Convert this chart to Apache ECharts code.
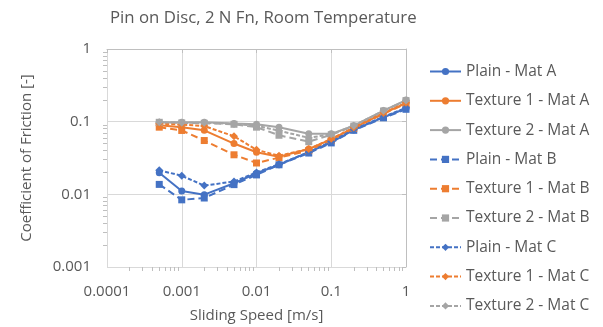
<!DOCTYPE html>
<html>
<head>
<meta charset="utf-8">
<script src="https://cdn.jsdelivr.net/npm/echarts@6/dist/echarts.min.js"></script>
<style>
  html, body { margin: 0; padding: 0; background: #fff; }
  #chart { width: 603px; height: 327px; }
</style>
</head>
<body>
<div id="chart"></div>
<script>
// Excel-style log/log friction chart, office palette
const BLUE = "#4472c4";
const ORANGE = "#ed7d31";
const GRAY = "#a5a5a5";
const INK = "#595959";
const GRID = "#d9d9d9";
const AXIS = "#bfbfbf";
const FONT = "'Open Sans', sans-serif";

const speeds = [0.0005, 0.001, 0.002, 0.005, 0.01, 0.02, 0.05, 0.1, 0.2, 0.5, 1];

const plainA = [0.0198, 0.0111, 0.0099, 0.0142, 0.0195, 0.0255, 0.038, 0.052, 0.077, 0.115, 0.152];
const tex1A = [0.089, 0.084, 0.076, 0.05, 0.038, 0.033, 0.042, 0.057, 0.082, 0.13, 0.18];
const tex2A = [0.098, 0.098, 0.098, 0.094, 0.092, 0.084, 0.068, 0.068, 0.088, 0.142, 0.198];
const plainB = [0.0137, 0.0084, 0.0089, 0.0136, 0.0185, 0.0255, 0.037, 0.051, 0.076, 0.113, 0.148];
const tex1B = [0.084, 0.0757, 0.055, 0.035, 0.027, 0.032, 0.04, 0.056, 0.081, 0.128, 0.178];
const tex2B = [0.098, 0.096, 0.095, 0.092, 0.084, 0.065, 0.053, 0.066, 0.087, 0.14, 0.195];
const plainC = [0.0214, 0.018, 0.0132, 0.015, 0.02, 0.026, 0.038, 0.053, 0.078, 0.117, 0.155];
const tex1C = [0.094, 0.091, 0.087, 0.063, 0.041, 0.034, 0.042, 0.058, 0.083, 0.132, 0.182];
const tex2C = [0.098, 0.097, 0.097, 0.093, 0.088, 0.075, 0.06, 0.067, 0.088, 0.141, 0.196];

const xTickLabels = ["0.0001", "0.001", "0.01", "0.1", "1"];
const yTickLabels = ["0.001", "0.01", "0.1", "1"];
const mantissas = [2, 3, 4, 5, 6, 7, 8, 9];
const xDecades = [-4, -3, -2, -1];
const yDecades = [-3, -2, -1];

// minor ticks sit at 2..9 of each decade; drawn on a hidden linear axis of log10 values
const xMinor = xDecades.flatMap((d) => mantissas.map((m) => d + Math.log10(m)));
const yMinor = yDecades.flatMap((d) => mantissas.map((m) => d + Math.log10(m)));

const seriesDefs = [
  { name: "Plain - Mat A", data: plainA, color: BLUE, dash: "solid", symbol: "circle", size: 7 },
  { name: "Texture 1 - Mat A", data: tex1A, color: ORANGE, dash: "solid", symbol: "circle", size: 7 },
  { name: "Texture 2 - Mat A", data: tex2A, color: GRAY, dash: "solid", symbol: "circle", size: 7 },
  { name: "Plain - Mat B", data: plainB, color: BLUE, dash: [7, 4], symbol: "rect", size: 7 },
  { name: "Texture 1 - Mat B", data: tex1B, color: ORANGE, dash: [7, 4], symbol: "rect", size: 7 },
  { name: "Texture 2 - Mat B", data: tex2B, color: GRAY, dash: [7, 4], symbol: "rect", size: 7 },
  { name: "Plain - Mat C", data: plainC, color: BLUE, dash: [4, 2], symbol: "diamond", size: 8 },
  { name: "Texture 1 - Mat C", data: tex1C, color: ORANGE, dash: [4, 2], symbol: "diamond", size: 8 },
  { name: "Texture 2 - Mat C", data: tex2C, color: GRAY, dash: [4, 2], symbol: "diamond", size: 8 },
];

const chart = echarts.init(document.getElementById("chart"));

const axisText = { color: INK, fontSize: 15, fontFamily: FONT };

const minorAxis = (min, max, ticks, position) => ({
  type: "value",
  min,
  max,
  position,
  axisLine: { show: false },
  axisLabel: { show: false },
  splitLine: { show: false },
  axisTick: { show: true, length: 4, customValues: ticks, lineStyle: { color: AXIS } },
});

chart.setOption({
  animation: false,
  backgroundColor: "#fff",
  textStyle: { fontFamily: FONT },
  title: {
    text: "Pin on Disc, 2 N Fn, Room Temperature",
    left: 105,
    top: 5,
    textStyle: { color: INK, fontSize: 16.8, fontWeight: "normal", fontFamily: FONT },
  },
  legend: {
    orient: "vertical",
    left: 424,
    top: 58.5,
    itemWidth: 31,
    itemHeight: 9,
    itemGap: 13.3,
    textStyle: { color: INK, fontSize: 15.5, fontFamily: FONT },
  },
  grid: { left: 107, right: 197, top: 49, bottom: 60, outerBoundsMode: "none" },
  xAxis: [
    {
      type: "log",
      logBase: 10,
      min: 0.0001,
      max: 1,
      interval: 1,
      name: "Sliding Speed [m/s]",
      nameLocation: "middle",
      nameGap: 41,
      nameTextStyle: axisText,
      axisLine: { lineStyle: { color: AXIS } },
      axisTick: { show: true, length: 4, lineStyle: { color: AXIS } },
      axisLabel: {
        ...axisText,
        margin: 17,
        formatter: (v) => xTickLabels[Math.round(Math.log10(v)) + 4],
      },
      splitLine: { show: true, lineStyle: { color: GRID } },
    },
    minorAxis(-4, 0, xMinor, "bottom"),
  ],
  yAxis: [
    {
      type: "log",
      logBase: 10,
      min: 0.001,
      max: 1,
      interval: 1,
      name: "Coefficient of Friction [-]",
      nameLocation: "middle",
      nameGap: 73,
      nameTextStyle: axisText,
      axisLine: { show: true, lineStyle: { color: AXIS } },
      axisTick: { show: true, length: 4, lineStyle: { color: AXIS } },
      axisLabel: {
        ...axisText,
        margin: 16,
        formatter: (v) => yTickLabels[Math.round(Math.log10(v)) + 3],
      },
      splitLine: { show: true, lineStyle: { color: GRID } },
    },
    minorAxis(-3, 0, yMinor, "left"),
  ],
  series: seriesDefs.map((s) => ({
    name: s.name,
    type: "line",
    xAxisIndex: 0,
    yAxisIndex: 0,
    symbol: s.symbol,
    symbolSize: s.size,
    showSymbol: true,
    lineStyle: { width: 2, color: s.color, type: s.dash },
    itemStyle: { color: s.color },
    data: speeds.map((x, i) => [x, s.data[i]]),
  })),
});
</script>
</body>
</html>
